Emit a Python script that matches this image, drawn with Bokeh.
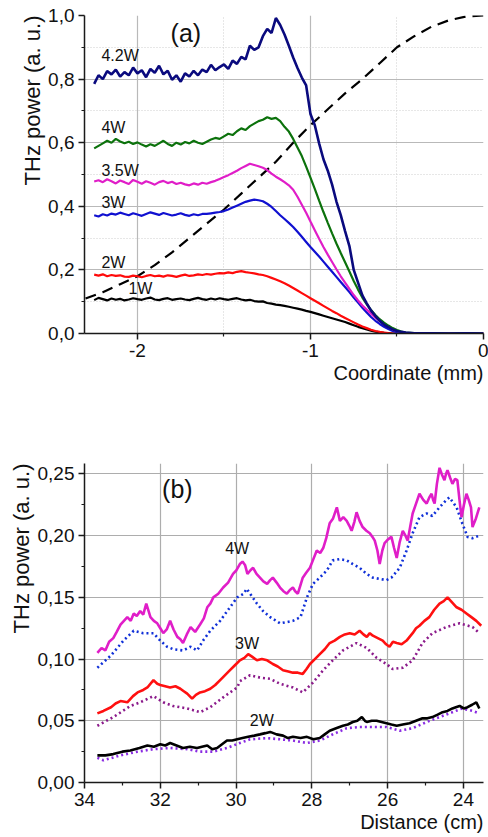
import numpy as np
from bokeh.plotting import figure
from bokeh.layouts import column
from bokeh.models import FixedTicker, Title, Label, Range1d, CustomJSTickFormatter
from bokeh.embed import file_html
from bokeh.resources import INLINE

FONT = "Liberation Sans"

# ---------- (a) THz power versus scan coordinate ----------
coord = np.round(np.arange(-2.25, -0.4499, 0.025), 3)
coord_tail = [-0.4, -0.3, -0.2, -0.1, 0.0]

power_1w = [0.105, 0.112, 0.108, 0.104, 0.110, 0.106, 0.109, 0.104, 0.107, 0.111,
            0.108, 0.106, 0.110, 0.113, 0.107, 0.105, 0.109, 0.111, 0.106, 0.108,
            0.110, 0.107, 0.105, 0.109, 0.112, 0.108, 0.106, 0.110, 0.107, 0.111,
            0.108, 0.106, 0.109, 0.111, 0.107, 0.104, 0.106, 0.102, 0.100, 0.101,
            0.096, 0.094, 0.091, 0.089, 0.087, 0.084, 0.081, 0.078, 0.075, 0.071,
            0.068, 0.064, 0.060, 0.056, 0.052, 0.048, 0.044, 0.040, 0.036, 0.031,
            0.026, 0.021, 0.017, 0.013, 0.009, 0.006, 0.004, 0.002, 0.001, 0.000,
            0.000, 0.000, 0.000]
power_2w = [0.185, 0.182, 0.186, 0.180, 0.184, 0.181, 0.183, 0.179, 0.178, 0.182,
            0.180, 0.177, 0.181, 0.184, 0.180, 0.182, 0.179, 0.183, 0.181, 0.178,
            0.182, 0.185, 0.181, 0.183, 0.186, 0.184, 0.187, 0.185, 0.188, 0.190,
            0.189, 0.192, 0.190, 0.194, 0.196, 0.193, 0.191, 0.189, 0.186, 0.184,
            0.180, 0.175, 0.170, 0.164, 0.158, 0.151, 0.143, 0.135, 0.127, 0.119,
            0.111, 0.103, 0.095, 0.087, 0.079, 0.071, 0.064, 0.056, 0.049, 0.042,
            0.035, 0.028, 0.022, 0.017, 0.012, 0.008, 0.005, 0.003, 0.001, 0.000,
            0.000, 0.000, 0.000]
power_3w = [0.372, 0.368, 0.375, 0.371, 0.377, 0.374, 0.380, 0.376, 0.372, 0.378,
            0.374, 0.370, 0.376, 0.381, 0.377, 0.373, 0.379, 0.375, 0.371, 0.374,
            0.378, 0.373, 0.370, 0.375, 0.372, 0.376, 0.376, 0.378, 0.380, 0.382,
            0.385, 0.390, 0.396, 0.402, 0.408, 0.414, 0.418, 0.421, 0.419, 0.416,
            0.408, 0.398, 0.385, 0.372, 0.360, 0.348, 0.335, 0.320, 0.304, 0.288,
            0.272, 0.257, 0.242, 0.226, 0.210, 0.194, 0.178, 0.162, 0.146, 0.130,
            0.113, 0.097, 0.081, 0.066, 0.052, 0.040, 0.030, 0.021, 0.014, 0.008,
            0.004, 0.002, 0.001]
power_35w = [0.478, 0.482, 0.476, 0.485, 0.479, 0.472, 0.481, 0.476, 0.470, 0.483,
             0.477, 0.471, 0.479, 0.474, 0.468, 0.476, 0.480, 0.473, 0.477, 0.470,
             0.474, 0.469, 0.466, 0.472, 0.468, 0.474, 0.471, 0.476, 0.480, 0.486,
             0.492, 0.498, 0.505, 0.512, 0.520, 0.527, 0.534, 0.530, 0.526, 0.521,
             0.514, 0.503, 0.493, 0.485, 0.476, 0.466, 0.452, 0.430, 0.405, 0.380,
             0.352, 0.325, 0.298, 0.272, 0.248, 0.225, 0.202, 0.180, 0.160, 0.140,
             0.121, 0.104, 0.088, 0.075, 0.062, 0.050, 0.040, 0.030, 0.021, 0.013,
             0.008, 0.004, 0.002]
power_4w = [0.582, 0.590, 0.598, 0.606, 0.600, 0.612, 0.604, 0.598, 0.603, 0.596,
            0.601, 0.594, 0.588, 0.595, 0.590, 0.598, 0.606, 0.596, 0.590, 0.600,
            0.594, 0.602, 0.598, 0.606, 0.600, 0.596, 0.603, 0.610, 0.615, 0.612,
            0.620, 0.628, 0.624, 0.636, 0.645, 0.640, 0.652, 0.660, 0.668, 0.672,
            0.680, 0.675, 0.678, 0.668, 0.650, 0.635, 0.612, 0.585, 0.558, 0.525,
            0.490, 0.455, 0.418, 0.382, 0.348, 0.315, 0.283, 0.253, 0.224, 0.195,
            0.165, 0.138, 0.113, 0.092, 0.074, 0.058, 0.045, 0.034, 0.025, 0.017,
            0.011, 0.006, 0.003]
power_42w = [0.785, 0.812, 0.800, 0.825, 0.815, 0.830, 0.808, 0.822, 0.812, 0.836,
             0.818, 0.828, 0.806, 0.832, 0.820, 0.842, 0.815, 0.826, 0.798, 0.812,
             0.792, 0.818, 0.808, 0.826, 0.812, 0.830, 0.822, 0.845, 0.828, 0.838,
             0.846, 0.832, 0.858, 0.848, 0.870, 0.862, 0.905, 0.892, 0.900, 0.935,
             0.958, 0.945, 0.992, 0.970, 0.940, 0.905, 0.868, 0.835, 0.805, 0.780,
             0.690, 0.655, 0.598, 0.548, 0.512, 0.468, 0.415, 0.372, 0.322, 0.275,
             0.200, 0.160, 0.120, 0.095, 0.072, 0.055, 0.040, 0.028, 0.020, 0.013,
             0.008, 0.005, 0.003]
tail_power = [0.001, 0.001, 0.000, 0.001, 0.000]

# normalised beam profile (dashed)
profile_x = [-2.3, -2.2, -2.1, -2.0, -1.9, -1.8, -1.7, -1.6, -1.5, -1.4, -1.3, -1.2,
             -1.1, -1.0, -0.9, -0.8, -0.7, -0.6, -0.5, -0.4, -0.3, -0.2, -0.1, 0.0]
profile_y = [0.11, 0.13, 0.155, 0.18, 0.215, 0.255, 0.30, 0.345, 0.39, 0.44, 0.49, 0.54,
             0.60, 0.655, 0.705, 0.755, 0.80, 0.85, 0.90, 0.935, 0.965, 0.985, 0.997, 1.0]

series_a = [
    ("1W", power_1w, "#000000", -2.052, 0.142),
    ("2W", power_2w, "#FF0A0A", -2.208, 0.223),
    ("3W", power_3w, "#1010D0", -2.208, 0.412),
    ("3.5W", power_35w, "#E01EC8", -2.208, 0.513),
    ("4W", power_4w, "#0C720C", -2.208, 0.648),
    ("4.2W", power_42w, "#0A0A7E", -2.208, 0.875),
]

# ---------- (b) THz power versus distance ----------
dist_4w = [33.66, 33.55, 33.45, 33.35, 33.24, 33.15, 33.05, 32.96, 32.87, 32.78,
           32.70, 32.62, 32.53, 32.45, 32.37, 32.31, 32.26, 32.17, 32.08, 32.00,
           31.92, 31.83, 31.74, 31.65, 31.55, 31.47, 31.40, 31.30, 31.20, 31.08,
           30.95, 30.85, 30.76, 30.68, 30.60, 30.47, 30.34, 30.21, 30.08, 29.99,
           29.90, 29.83, 29.76, 29.70, 29.62, 29.55, 29.46, 29.37, 29.28, 29.18,
           29.10, 29.03, 28.93, 28.84, 28.75, 28.66, 28.58, 28.50, 28.44, 28.37,
           28.30, 28.24, 28.15, 28.05, 27.96, 27.87, 27.78, 27.70, 27.62, 27.53,
           27.44, 27.34, 27.26, 27.17, 27.08, 27.01, 26.95, 26.88, 26.82, 26.74,
           26.66, 26.56, 26.47, 26.40, 26.34, 26.27, 26.21, 26.14, 26.08, 25.99,
           25.90, 25.83, 25.76, 25.68, 25.60, 25.53, 25.47, 25.40, 25.34, 25.25,
           25.16, 25.06, 24.97, 24.90, 24.84, 24.80, 24.76, 24.70, 24.63, 24.56,
           24.50, 24.46, 24.42, 24.35, 24.29, 24.22, 24.16, 24.10, 24.05, 23.98,
           23.92, 23.86, 23.80, 23.76, 23.67, 23.58]
thz_4w = [0.105, 0.109, 0.107, 0.114, 0.117, 0.122, 0.128, 0.131, 0.134, 0.131,
          0.137, 0.135, 0.139, 0.136, 0.145, 0.139, 0.134, 0.131, 0.129, 0.125,
          0.121, 0.124, 0.131, 0.124, 0.118, 0.116, 0.113, 0.120, 0.126, 0.122,
          0.128, 0.133, 0.142, 0.145, 0.150, 0.153, 0.158, 0.162, 0.169, 0.172,
          0.177, 0.179, 0.176, 0.169, 0.172, 0.174, 0.169, 0.166, 0.163, 0.161,
          0.164, 0.166, 0.162, 0.158, 0.155, 0.153, 0.156, 0.158, 0.155, 0.153,
          0.160, 0.166, 0.170, 0.174, 0.181, 0.188, 0.186, 0.190, 0.198, 0.210,
          0.214, 0.223, 0.212, 0.215, 0.212, 0.208, 0.204, 0.211, 0.219, 0.212,
          0.207, 0.204, 0.202, 0.199, 0.196, 0.188, 0.177, 0.188, 0.194, 0.197,
          0.199, 0.190, 0.182, 0.195, 0.204, 0.200, 0.196, 0.208, 0.218, 0.226,
          0.234, 0.229, 0.226, 0.231, 0.234, 0.229, 0.226, 0.242, 0.255, 0.249,
          0.245, 0.250, 0.253, 0.247, 0.242, 0.246, 0.245, 0.228, 0.215, 0.226,
          0.234, 0.229, 0.223, 0.207, 0.214, 0.223]

dist_4w_ref = [33.66, 33.30, 32.97, 32.70, 32.45, 32.18, 32.00, 31.82, 31.66, 31.40,
               31.20, 31.03, 30.87, 30.68, 30.42, 30.16, 29.97, 29.80, 29.72, 29.63,
               29.45, 29.29, 29.10, 28.84, 28.66, 28.50, 28.30, 28.13, 27.97, 27.79,
               27.60, 27.45, 27.26, 27.08, 26.92, 26.74, 26.55, 26.39, 26.21, 26.03,
               25.90, 25.68, 25.50, 25.34, 25.16, 24.97, 24.82, 24.63, 24.45, 24.37,
               24.18, 24.03, 23.89, 23.76, 23.58]
thz_4w_ref = [0.093, 0.103, 0.115, 0.123, 0.121, 0.121, 0.115, 0.110, 0.108, 0.107,
              0.110, 0.107, 0.115, 0.123, 0.131, 0.142, 0.150, 0.153, 0.157, 0.153,
              0.145, 0.139, 0.134, 0.129, 0.130, 0.131, 0.134, 0.150, 0.161, 0.166,
              0.172, 0.180, 0.181, 0.180, 0.177, 0.174, 0.169, 0.166, 0.165, 0.164,
              0.166, 0.174, 0.188, 0.202, 0.215, 0.218, 0.216, 0.223, 0.229, 0.231,
              0.223, 0.210, 0.199, 0.198, 0.200]

dist_3w = [33.66, 33.50, 33.30, 33.18, 33.05, 32.87, 32.72, 32.60, 32.45, 32.34,
           32.18, 32.08, 32.00, 31.87, 31.74, 31.60, 31.47, 31.38, 31.29, 31.16,
           31.06, 30.95, 30.82, 30.68, 30.55, 30.42, 30.29, 30.16, 30.03, 29.90,
           29.78, 29.68, 29.58, 29.45, 29.32, 29.18, 29.03, 28.90, 28.76, 28.62,
           28.50, 28.37, 28.24, 28.14, 28.05, 27.92, 27.79, 27.66, 27.53, 27.40,
           27.26, 27.13, 27.00, 26.87, 26.74, 26.64, 26.55, 26.47, 26.39, 26.26,
           26.13, 26.04, 25.95, 25.86, 25.76, 25.63, 25.50, 25.42, 25.34, 25.25,
           25.16, 25.03, 24.90, 24.77, 24.63, 24.52, 24.42, 24.30, 24.18, 24.05,
           23.92, 23.79, 23.66, 23.53]
thz_3w = [0.056, 0.058, 0.061, 0.064, 0.066, 0.065, 0.070, 0.073, 0.075, 0.077,
          0.083, 0.080, 0.079, 0.078, 0.077, 0.078, 0.076, 0.074, 0.072, 0.068,
          0.071, 0.073, 0.074, 0.076, 0.079, 0.083, 0.087, 0.091, 0.095, 0.099,
          0.101, 0.104, 0.102, 0.099, 0.100, 0.099, 0.096, 0.094, 0.091, 0.090,
          0.089, 0.089, 0.088, 0.092, 0.096, 0.100, 0.104, 0.108, 0.113, 0.115,
          0.118, 0.120, 0.121, 0.120, 0.123, 0.120, 0.118, 0.121, 0.119, 0.117,
          0.115, 0.112, 0.110, 0.114, 0.113, 0.112, 0.115, 0.118, 0.121, 0.125,
          0.127, 0.131, 0.134, 0.140, 0.145, 0.147, 0.150, 0.146, 0.142, 0.140,
          0.137, 0.134, 0.131, 0.127]

dist_3w_ref = [33.66, 33.24, 32.79, 32.53, 32.18, 31.92, 31.66, 31.29, 30.95, 30.68,
               30.34, 29.97, 29.90, 29.63, 29.37, 29.10, 28.84, 28.50, 28.24, 27.97,
               27.70, 27.45, 27.18, 26.82, 26.55, 26.29, 26.03, 25.87, 25.60, 25.34,
               25.08, 24.82, 24.45, 24.10, 23.76, 23.58]
thz_3w_ref = [0.046, 0.053, 0.062, 0.065, 0.070, 0.065, 0.062, 0.060, 0.057, 0.061,
              0.069, 0.077, 0.082, 0.087, 0.085, 0.084, 0.080, 0.077, 0.073, 0.081,
              0.091, 0.099, 0.107, 0.113, 0.109, 0.101, 0.096, 0.092, 0.093, 0.099,
              0.113, 0.121, 0.126, 0.129, 0.126, 0.121]

dist_2w = [33.66, 33.45, 33.24, 33.00, 32.79, 32.55, 32.34, 32.17, 32.00, 31.87,
           31.74, 31.57, 31.40, 31.22, 31.03, 30.90, 30.76, 30.63, 30.50, 30.37,
           30.24, 30.10, 29.97, 29.83, 29.68, 29.52, 29.37, 29.23, 29.10, 28.93,
           28.76, 28.63, 28.50, 28.30, 28.13, 27.96, 27.79, 27.66, 27.53, 27.36,
           27.18, 27.05, 26.92, 26.80, 26.68, 26.60, 26.55, 26.42, 26.29, 26.16,
           26.03, 25.90, 25.76, 25.60, 25.42, 25.25, 25.08, 24.95, 24.82, 24.68,
           24.55, 24.42, 24.29, 24.20, 24.10, 23.99, 23.89, 23.77, 23.66, 23.58]
thz_2w = [0.022, 0.022, 0.023, 0.025, 0.026, 0.028, 0.030, 0.029, 0.031, 0.030,
          0.032, 0.030, 0.028, 0.029, 0.028, 0.029, 0.030, 0.027, 0.028, 0.031,
          0.034, 0.034, 0.035, 0.036, 0.037, 0.038, 0.039, 0.040, 0.041, 0.039,
          0.038, 0.036, 0.037, 0.036, 0.037, 0.035, 0.036, 0.039, 0.042, 0.044,
          0.046, 0.047, 0.049, 0.050, 0.053, 0.050, 0.049, 0.050, 0.050, 0.049,
          0.048, 0.047, 0.046, 0.047, 0.048, 0.050, 0.052, 0.052, 0.053, 0.055,
          0.057, 0.058, 0.060, 0.061, 0.062, 0.060, 0.061, 0.063, 0.065, 0.060]

dist_2w_ref = [33.66, 33.50, 33.05, 32.60, 32.18, 31.74, 31.29, 30.95, 30.60, 30.24,
               29.90, 29.63, 29.18, 28.84, 28.50, 28.13, 27.79, 27.45, 27.08, 26.74,
               26.39, 26.03, 25.68, 25.34, 24.97, 24.63, 24.29, 24.03, 23.76, 23.58]
thz_2w_ref = [0.020, 0.018, 0.022, 0.025, 0.027, 0.028, 0.027, 0.025, 0.025, 0.028,
              0.032, 0.035, 0.036, 0.035, 0.034, 0.032, 0.034, 0.039, 0.044, 0.045,
              0.045, 0.045, 0.042, 0.044, 0.049, 0.053, 0.057, 0.060, 0.058, 0.056]


def style_axes(p, x_major, x_minor, y_major, y_minor, x_digits, y_digits,
               grid_color, minor_grid):
    p.xaxis.ticker = FixedTicker(ticks=x_major, minor_ticks=x_minor)
    p.yaxis.ticker = FixedTicker(ticks=y_major, minor_ticks=y_minor)
    p.xgrid.ticker = p.xaxis.ticker
    p.ygrid.ticker = p.yaxis.ticker
    p.xaxis.formatter = CustomJSTickFormatter(
        code="return tick.toFixed(%d).replace('.', ',');" % x_digits)
    p.yaxis.formatter = CustomJSTickFormatter(
        code="return tick.toFixed(%d).replace('.', ',');" % y_digits)
    for ax in (p.xaxis, p.yaxis):
        ax.axis_line_width = 1.5
        ax.axis_line_color = "#1A1A1A"
        ax.major_tick_line_color = "#1A1A1A"
        ax.minor_tick_line_color = "#1A1A1A"
        ax.major_tick_line_width = 1.5
        ax.minor_tick_line_width = 1.2
        ax.major_tick_out = 6
        ax.major_tick_in = 0
        ax.minor_tick_out = 3
        ax.minor_tick_in = 0
        ax.major_label_text_font = FONT
        ax.major_label_text_font_size = "19px"
        ax.major_label_text_color = "#111111"
        ax.major_label_standoff = 4
    for g in (p.xgrid, p.ygrid):
        g.grid_line_color = grid_color
        g.grid_line_width = 1.2
        if minor_grid:
            g.minor_grid_line_color = "#CFCFCF"
            g.minor_grid_line_dash = "1 2"
            g.minor_grid_line_width = 1
    p.outline_line_color = None
    p.background_fill_color = "white"
    p.border_fill_color = "white"


def add_axis_titles(p, ylabel, xlabel):
    p.add_layout(Title(text=ylabel, align="right", text_font=FONT,
                       text_font_size="22px", text_font_style="normal",
                       text_color="#111111", standoff=2), "left")
    p.add_layout(Title(text=xlabel, align="right", text_font=FONT,
                       text_font_size="20px", text_font_style="normal",
                       text_color="#111111", standoff=0), "below")


# ---------- panel (a) ----------
pa = figure(width=488, height=400, output_backend="svg", toolbar_location=None,
            x_range=Range1d(-2.306, 0.0), y_range=Range1d(0.0, 1.0),
            min_border_left=84, min_border_right=5, min_border_top=15,
            min_border_bottom=67)
style_axes(pa, [-2, -1, 0], [-1.5, -0.5], [0, 0.2, 0.4, 0.6, 0.8, 1.0],
           [0.1, 0.3, 0.5, 0.7, 0.9], 0, 1, "#B9B9B9", True)

pa.line(profile_x, profile_y, line_color="black", line_width=2.2, line_dash="11 7")

for name, vals, color, lx, ly in series_a:
    xs = list(coord) + coord_tail
    ys = list(vals) + tail_power
    pa.line(xs, ys, line_color=color, line_width=2.2 if name != "4.2W" else 2.6)
    pa.add_layout(Label(x=lx, y=ly, text=name, text_font=FONT, text_font_size="16px",
                        text_color="#111111", text_align="left",
                        text_baseline="middle"))

pa.add_layout(Label(x=-1.72, y=0.945, text="(a)", text_font=FONT,
                    text_font_size="25px", text_color="#111111",
                    text_align="center", text_baseline="middle"))
add_axis_titles(pa, "THz power (a. u.)", "Coordinate (mm)")

# ---------- panel (b) ----------
pb = figure(width=488, height=437, output_backend="svg", toolbar_location=None,
            x_range=Range1d(34.0, 23.47), y_range=Range1d(0.0, 0.2585),
            min_border_left=84, min_border_right=5, min_border_top=63,
            min_border_bottom=55)
style_axes(pb, [34, 32, 30, 28, 26, 24], [33, 31, 29, 27, 25],
           [0, 0.05, 0.10, 0.15, 0.20, 0.25], [0.025, 0.075, 0.125, 0.175, 0.225],
           0, 2, "#ADADAD", False)

pb.line(dist_2w_ref, thz_2w_ref, line_color="#8A2BE2", line_width=2.6, line_dash="2 3")
pb.line(dist_3w_ref, thz_3w_ref, line_color="#8B1A8B", line_width=2.6, line_dash="2 3")
pb.line(dist_4w_ref, thz_4w_ref, line_color="#1030D8", line_width=2.6, line_dash="2 3")
pb.line(dist_2w, thz_2w, line_color="#000000", line_width=2.6)
pb.line(dist_3w, thz_3w, line_color="#FF1010", line_width=2.6)
pb.line(dist_4w, thz_4w, line_color="#E01EC8", line_width=2.6)

for txt, lx, ly in [("4W", 29.97, 0.190), ("3W", 29.71, 0.113), ("2W", 29.32, 0.050)]:
    pb.add_layout(Label(x=lx, y=ly, text=txt, text_font=FONT, text_font_size="16px",
                        text_color="#111111", text_align="center",
                        text_baseline="middle"))
pb.add_layout(Label(x=31.55, y=0.238, text="(b)", text_font=FONT,
                    text_font_size="25px", text_color="#111111",
                    text_align="center", text_baseline="middle"))
add_axis_titles(pb, "THz power (a. u.)", "Distance (cm)")

layout = column(pa, pb)
open("out.html", "w").write(file_html(layout, INLINE))
